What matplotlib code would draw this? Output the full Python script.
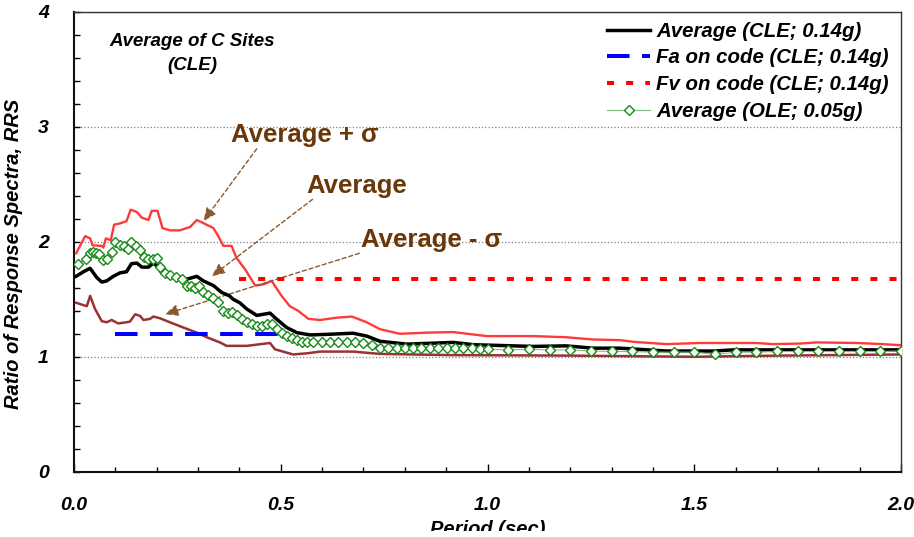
import matplotlib
matplotlib.use("Agg")
import matplotlib.pyplot as plt
from matplotlib.patches import Rectangle

plt.rcParams['font.family'] = ['Liberation Sans', 'DejaVu Sans']

# ---------------- data ----------------
upper_T = [0.005, 0.027, 0.039, 0.045, 0.067, 0.071, 0.077, 0.089, 0.097, 0.111, 0.127, 0.137,
           0.152, 0.164, 0.180, 0.188, 0.202, 0.214, 0.232, 0.256, 0.281, 0.297, 0.309, 0.337,
           0.349, 0.361, 0.381, 0.393, 0.414, 0.438, 0.458, 0.478, 0.502, 0.522, 0.542, 0.567,
           0.595, 0.635, 0.672, 0.708, 0.740, 0.788, 0.853, 0.917, 0.998, 1.110, 1.190, 1.256,
           1.320, 1.353, 1.433, 1.514, 1.651, 1.690, 1.756, 1.796, 1.893, 1.957, 2.000]
upper_val = [1.90, 2.05, 2.03, 1.97, 1.965, 1.95, 2.03, 2.015, 2.15, 2.16, 2.18, 2.28,
             2.26, 2.21, 2.19, 2.27, 2.27, 2.12, 2.10, 2.10, 2.13, 2.19, 2.17, 2.12,
             2.05, 1.965, 1.965, 1.86, 1.76, 1.62, 1.63, 1.66, 1.53, 1.44, 1.40, 1.33,
             1.32, 1.34, 1.35, 1.30, 1.24, 1.20, 1.21, 1.215, 1.18, 1.18, 1.17, 1.15,
             1.145, 1.13, 1.11, 1.12, 1.12, 1.11, 1.115, 1.125, 1.12, 1.11, 1.10]

avg_T = [0.005, 0.023, 0.039, 0.055, 0.067, 0.079, 0.095, 0.111, 0.127, 0.139, 0.152, 0.164,
         0.180, 0.192, 0.201, 0.212, 0.224, 0.248, 0.273, 0.297, 0.313, 0.337, 0.357, 0.376,
         0.385, 0.401, 0.418, 0.442, 0.474, 0.486, 0.514, 0.539, 0.571, 0.611, 0.675, 0.708,
         0.740, 0.805, 0.917, 0.966, 1.110, 1.190, 1.255, 1.320, 1.433, 1.545, 1.594, 2.000]
avg_val = [1.70, 1.74, 1.77, 1.69, 1.65, 1.66, 1.70, 1.73, 1.74, 1.81, 1.815, 1.78,
           1.78, 1.815, 1.79, 1.73, 1.70, 1.69, 1.675, 1.70, 1.66, 1.62, 1.56, 1.53,
           1.50, 1.47, 1.415, 1.36, 1.38, 1.34, 1.255, 1.21, 1.19, 1.195, 1.205, 1.18,
           1.135, 1.11, 1.125, 1.105, 1.09, 1.095, 1.075, 1.075, 1.05, 1.05, 1.06, 1.06]

lower_T = [0.005, 0.031, 0.039, 0.051, 0.067, 0.079, 0.091, 0.107, 0.135, 0.148, 0.160, 0.168,
           0.184, 0.192, 0.208, 0.232, 0.264, 0.297, 0.321, 0.353, 0.369, 0.418, 0.474, 0.486,
           0.530, 0.563, 0.595, 0.675, 0.740, 0.900, 1.200, 1.500, 1.700, 2.000]
lower_val = [1.47, 1.44, 1.53, 1.415, 1.31, 1.30, 1.32, 1.29, 1.305, 1.37, 1.355, 1.32,
             1.33, 1.35, 1.335, 1.30, 1.255, 1.21, 1.17, 1.125, 1.095, 1.095, 1.12, 1.065,
             1.02, 1.03, 1.045, 1.045, 1.025, 1.015, 1.01, 1.00, 1.01, 1.02]

ole_T = [0.010, 0.029, 0.039, 0.045, 0.053, 0.061, 0.069, 0.079, 0.091, 0.099, 0.111, 0.121,
         0.131, 0.139, 0.150, 0.160, 0.169, 0.180, 0.190, 0.200, 0.208, 0.220, 0.232, 0.247,
         0.260, 0.273, 0.282, 0.293, 0.303, 0.313, 0.325, 0.337, 0.349, 0.361, 0.373, 0.381,
         0.393, 0.406, 0.418, 0.430, 0.442, 0.454, 0.466, 0.478, 0.490, 0.502, 0.514, 0.526,
         0.539, 0.551, 0.563, 0.579, 0.599, 0.619, 0.639, 0.660, 0.680, 0.700, 0.720, 0.740,
         0.760, 0.780, 0.800, 0.820, 0.840, 0.861, 0.881, 0.901, 0.921, 0.941, 0.962, 0.982,
         1.00, 1.05, 1.10, 1.15, 1.20, 1.25, 1.30, 1.35, 1.40, 1.45, 1.50, 1.55, 1.60, 1.65,
         1.70, 1.75, 1.80, 1.85, 1.90, 1.95, 2.00]
ole_val = [1.81, 1.855, 1.90, 1.91, 1.90, 1.89, 1.84, 1.855, 1.91, 2.00, 1.97, 1.965,
           1.94, 1.995, 1.96, 1.93, 1.87, 1.85, 1.85, 1.86, 1.785, 1.73, 1.71, 1.695,
           1.675, 1.62, 1.62, 1.60, 1.62, 1.565, 1.535, 1.515, 1.48, 1.40, 1.385, 1.39,
           1.36, 1.33, 1.30, 1.285, 1.265, 1.27, 1.285, 1.285, 1.24, 1.21, 1.18, 1.16,
           1.145, 1.13, 1.125, 1.13, 1.13, 1.13, 1.13, 1.13, 1.13, 1.12, 1.10, 1.08,
           1.08, 1.075, 1.075, 1.075, 1.075, 1.075, 1.075, 1.075, 1.08, 1.075, 1.075, 1.065,
           1.065, 1.06, 1.065, 1.06, 1.06, 1.05, 1.046, 1.046, 1.04, 1.04, 1.04, 1.02, 1.04, 1.04,
           1.046, 1.046, 1.046, 1.046, 1.046, 1.046, 1.05]

fa_T = [0.1, 0.5]
fa_val = [1.2, 1.2]
fv_T = [0.4, 2.0]
fv_val = [1.68, 1.68]

legend_labels = ["Average (CLE; 0.14g)", "Fa on code (CLE; 0.14g)",
                 "Fv on code (CLE; 0.14g)", "Average (OLE; 0.05g)"]
x_ticks = [0.0, 0.5, 1.0, 1.5, 2.0]
x_ticklabels = ["0.0", "0.5", "1.0", "1.5", "2.0"]
y_ticks = [0, 1, 2, 3, 4]
y_ticklabels = ["0", "1", "2", "3", "4"]

# ---------------- figure ----------------
W, H = 914, 537
fig = plt.figure(figsize=(W / 100, H / 100), dpi=100)
ax_l, ax_r, ax_b, ax_t = 74, 901, 471.7, 12
ax = fig.add_axes([ax_l / W, 1 - ax_b / H, (ax_r - ax_l) / W, (ax_b - ax_t) / H])

bi = dict(fontweight='bold', fontstyle='italic')
brown_txt = '#6A3808'
brown_arrow = '#8A5A2E'

ax.plot(upper_T, upper_val, color='#FF3A3A', lw=1.7, zorder=3)
ax.plot(lower_T, lower_val, color='#993333', lw=1.8, zorder=3)
l_avg, = ax.plot(avg_T, avg_val, color='black', lw=2.5, zorder=4)
l_fa, = ax.plot(fa_T, fa_val, color='#0000FF', lw=2.9, dashes=(5.6, 3.1), zorder=4)
l_fv, = ax.plot(fv_T, fv_val, color='#FF0000', lw=2.9, dashes=(1.75, 3.0), zorder=4)
l_ole, = ax.plot(ole_T, ole_val, color='#7FC07F', lw=0.8, marker='D', ms=4.6,
                 mfc='white', mec='#168A16', mew=1.0, zorder=5)

ax.set_xlim(0, 2.0)
ax.set_ylim(0, 4)
ax.set_xticks(x_ticks)
ax.set_xticklabels(x_ticklabels, fontsize=14, **bi)
ax.set_yticks(y_ticks)
ax.set_yticklabels(y_ticklabels, fontsize=14, **bi)
ax.set_xticks([i / 10 for i in range(21)], minor=True)
ax.set_yticks([i / 5 for i in range(21)], minor=True)
ax.tick_params(axis='x', which='major', direction='in', length=5.8, width=1, pad=18)
ax.tick_params(axis='x', which='minor', direction='in', length=3.6, width=1)
ax.tick_params(axis='y', which='major', direction='in', length=4.3, width=1, pad=18)
ax.tick_params(axis='y', which='minor', direction='in', length=4.3, width=1)

ax.grid(axis='y', which='major', color='#808080', linestyle=':', lw=0.9, zorder=0)
ax.set_axisbelow(True)
for s in ['left', 'bottom']:
    ax.spines[s].set_linewidth(1.5)
    ax.spines[s].set_color('#111111')
for s in ['top', 'right']:
    ax.spines[s].set_linewidth(1.0)
    ax.spines[s].set_color('#333333')

ax.set_ylabel("Ratio of Response Spectra, RRS", fontsize=14.5, **bi)
ax.yaxis.set_label_coords((23 - ax_l) / (ax_r - ax_l), (ax_b - 253.5) / (ax_b - ax_t))
ax.set_xlabel("Period (sec)", fontsize=14.5, **bi)
ax.xaxis.set_label_coords(0.5, -(520 - ax_b) / (ax_b - ax_t))

ax.text(192.5 / W, 1 - 53.5 / H, "Average of C Sites\n(CLE)", transform=fig.transFigure,
        ha='center', va='center', fontsize=13.5, multialignment='center',
        linespacing=1.55, **bi)

leg = ax.legend([l_avg, l_fa, l_fv, l_ole], legend_labels, loc='upper left',
                bbox_to_anchor=(597 / W, 1 - 11.5 / H), bbox_transform=fig.transFigure,
                frameon=False, borderpad=0, handlelength=2.1, handletextpad=0.3,
                labelspacing=0.38, numpoints=1,
                prop=dict(family=['Liberation Sans', 'DejaVu Sans'], weight='bold',
                          style='italic', size=14.7))

arrow_kw = dict(arrowstyle='-|>,head_length=0.8,head_width=0.35', color=brown_arrow,
                lw=1.0, linestyle=(0, (3, 2)), shrinkA=0, shrinkB=0)
ann_kw = dict(fontsize=18.5, fontweight='bold', color=brown_txt)
ax.text(0.379, 2.93, "Average + σ", ha='left', va='center', **ann_kw)
ax.text(0.561, 2.49, "Average", ha='left', va='center', **ann_kw)
ax.text(0.694, 2.015, "Average - σ", ha='left', va='center', **ann_kw)
ax.annotate('', xy=(0.313, 2.18), xytext=(0.442, 2.81), arrowprops=arrow_kw)
ax.annotate('', xy=(0.333, 1.70), xytext=(0.577, 2.37), arrowprops=arrow_kw)
ax.annotate('', xy=(0.220, 1.37), xytext=(0.690, 1.90), arrowprops=arrow_kw)

fig.patches.append(Rectangle((0, 0), 1, 6 / H, transform=fig.transFigure,
                             facecolor='white', edgecolor='none', zorder=10))

fig.savefig("out.png", dpi=100)
